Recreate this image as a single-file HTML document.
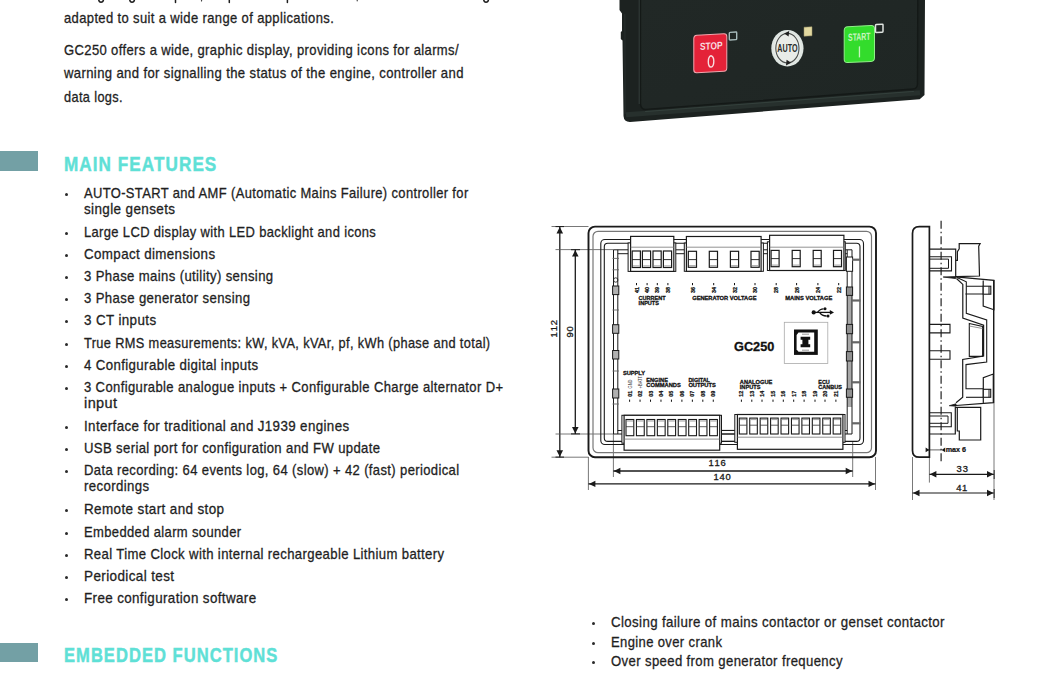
<!DOCTYPE html>
<html><head><meta charset="utf-8"><style>
html,body{margin:0;padding:0;background:#fff;}
body{width:1058px;height:675px;overflow:hidden;position:relative;font-family:"Liberation Sans",sans-serif;}
.t{position:absolute;white-space:pre;line-height:1;transform-origin:0 0;-webkit-text-stroke:0.3px currentColor;letter-spacing:0.4px;}
.b{position:absolute;width:3px;height:3px;border-radius:50%;background:#2a2a2a;}
.bar{position:absolute;left:0;width:38px;background:#73a0a5;}
svg{position:absolute;left:0;top:0;}
</style></head><body>
<div class="t" style="left:63.9px;top:10.56px;font-size:14.1px;font-weight:400;color:#1f1f1f;transform:scaleX(0.9220)">adapted to suit a wide range of applications.</div>
<div class="t" style="left:63.9px;top:42.96px;font-size:14.1px;font-weight:400;color:#1f1f1f;transform:scaleX(0.9242)">GC250 offers a wide, graphic display, providing icons for alarms/</div>
<div class="t" style="left:63.9px;top:65.96px;font-size:14.1px;font-weight:400;color:#1f1f1f;transform:scaleX(0.9291)">warning and for signalling the status of the engine, controller and</div>
<div class="t" style="left:63.9px;top:89.66px;font-size:14.1px;font-weight:400;color:#1f1f1f;transform:scaleX(0.9054)">data logs.</div>
<div class="t" style="left:83.6px;top:185.66px;font-size:14.1px;font-weight:400;color:#1f1f1f;transform:scaleX(0.9181)">AUTO-START and AMF (Automatic Mains Failure) controller for</div>
<div class="t" style="left:83.6px;top:202.36px;font-size:14.1px;font-weight:400;color:#1f1f1f;transform:scaleX(0.9559)">single gensets</div>
<div class="t" style="left:83.6px;top:224.76px;font-size:14.1px;font-weight:400;color:#1f1f1f;transform:scaleX(0.9175)">Large LCD display with LED backlight and icons</div>
<div class="t" style="left:83.6px;top:246.86px;font-size:14.1px;font-weight:400;color:#1f1f1f;transform:scaleX(0.9472)">Compact dimensions</div>
<div class="t" style="left:83.6px;top:268.56px;font-size:14.1px;font-weight:400;color:#1f1f1f;transform:scaleX(0.9309)">3 Phase mains (utility) sensing</div>
<div class="t" style="left:83.6px;top:290.76px;font-size:14.1px;font-weight:400;color:#1f1f1f;transform:scaleX(0.9328)">3 Phase generator sensing</div>
<div class="t" style="left:83.6px;top:313.06px;font-size:14.1px;font-weight:400;color:#1f1f1f;transform:scaleX(0.9510)">3 CT inputs</div>
<div class="t" style="left:83.6px;top:335.96px;font-size:14.1px;font-weight:400;color:#1f1f1f;transform:scaleX(0.9075)">True RMS measurements: kW, kVA, kVAr, pf, kWh (phase and total)</div>
<div class="t" style="left:83.6px;top:358.06px;font-size:14.1px;font-weight:400;color:#1f1f1f;transform:scaleX(0.9403)">4 Configurable digital inputs</div>
<div class="t" style="left:83.6px;top:379.76px;font-size:14.1px;font-weight:400;color:#1f1f1f;transform:scaleX(0.9251)">3 Configurable analogue inputs + Configurable Charge alternator D+</div>
<div class="t" style="left:83.6px;top:395.96px;font-size:14.1px;font-weight:400;color:#1f1f1f;transform:scaleX(1.0291)">input</div>
<div class="t" style="left:83.6px;top:419.06px;font-size:14.1px;font-weight:400;color:#1f1f1f;transform:scaleX(0.9466)">Interface for traditional and J1939 engines</div>
<div class="t" style="left:83.6px;top:440.86px;font-size:14.1px;font-weight:400;color:#1f1f1f;transform:scaleX(0.9298)">USB serial port for configuration and FW update</div>
<div class="t" style="left:83.6px;top:462.66px;font-size:14.1px;font-weight:400;color:#1f1f1f;transform:scaleX(0.9241)">Data recording: 64 events log, 64 (slow) + 42 (fast) periodical</div>
<div class="t" style="left:83.6px;top:478.96px;font-size:14.1px;font-weight:400;color:#1f1f1f;transform:scaleX(0.9379)">recordings</div>
<div class="t" style="left:83.6px;top:501.86px;font-size:14.1px;font-weight:400;color:#1f1f1f;transform:scaleX(0.9553)">Remote start and stop</div>
<div class="t" style="left:83.6px;top:524.86px;font-size:14.1px;font-weight:400;color:#1f1f1f;transform:scaleX(0.9210)">Embedded alarm sounder</div>
<div class="t" style="left:83.6px;top:546.76px;font-size:14.1px;font-weight:400;color:#1f1f1f;transform:scaleX(0.9303)">Real Time Clock with internal rechargeable Lithium battery</div>
<div class="t" style="left:83.6px;top:568.76px;font-size:14.1px;font-weight:400;color:#1f1f1f;transform:scaleX(0.9572)">Periodical test</div>
<div class="t" style="left:83.6px;top:590.86px;font-size:14.1px;font-weight:400;color:#1f1f1f;transform:scaleX(0.9499)">Free configuration software</div>
<div class="t" style="left:611.2px;top:614.66px;font-size:14.1px;font-weight:400;color:#1f1f1f;transform:scaleX(0.9417)">Closing failure of mains contactor or genset contactor</div>
<div class="t" style="left:611.2px;top:634.66px;font-size:14.1px;font-weight:400;color:#1f1f1f;transform:scaleX(0.9241)">Engine over crank</div>
<div class="t" style="left:611.2px;top:653.56px;font-size:14.1px;font-weight:400;color:#1f1f1f;transform:scaleX(0.9311)">Over speed from generator frequency</div>
<div class="t" style="left:63.7px;top:154.76px;font-size:19.3px;font-weight:700;color:#5fe0d6;transform:scaleX(0.8880);-webkit-text-stroke:0.45px #5fe0d6;letter-spacing:1.2px">MAIN FEATURES</div>
<div class="t" style="left:63.6px;top:645.56px;font-size:19.3px;font-weight:700;color:#5fe0d6;transform:scaleX(0.8585);-webkit-text-stroke:0.45px #5fe0d6;letter-spacing:1.2px">EMBEDDED FUNCTIONS</div>
<div class="b" style="left:64.9px;top:192.6px"></div>
<div class="b" style="left:64.9px;top:231.7px"></div>
<div class="b" style="left:64.9px;top:253.8px"></div>
<div class="b" style="left:64.9px;top:275.5px"></div>
<div class="b" style="left:64.9px;top:297.7px"></div>
<div class="b" style="left:64.9px;top:320.0px"></div>
<div class="b" style="left:64.9px;top:342.9px"></div>
<div class="b" style="left:64.9px;top:365.0px"></div>
<div class="b" style="left:64.9px;top:386.7px"></div>
<div class="b" style="left:64.9px;top:426.0px"></div>
<div class="b" style="left:64.9px;top:447.8px"></div>
<div class="b" style="left:64.9px;top:469.6px"></div>
<div class="b" style="left:64.9px;top:508.8px"></div>
<div class="b" style="left:64.9px;top:531.8px"></div>
<div class="b" style="left:64.9px;top:553.7px"></div>
<div class="b" style="left:64.9px;top:575.7px"></div>
<div class="b" style="left:64.9px;top:597.8px"></div>
<div class="b" style="left:591.9px;top:621.6px"></div>
<div class="b" style="left:591.9px;top:641.6px"></div>
<div class="b" style="left:591.9px;top:660.5px"></div>
<div class="bar" style="top:151.2px;height:19.6px"></div>
<div class="bar" style="top:642.8px;height:19.3px"></div>
<svg width="1058" height="20" viewBox="0 0 1058 20" style="position:absolute;left:0;top:0">
<g fill="none" stroke="#1f1f1f" stroke-width="1.5" stroke-linecap="round">
<path d="M98.6,-1 Q98.8,2.2 101,2.2 Q103.4,2.2 103.6,-1"/>
<path d="M129.6,-1 Q129.8,2.2 132,2.2 Q134.4,2.2 134.6,-1"/>
<path d="M483.6,-1 Q483.8,2.2 486,2.2 Q488.4,2.2 488.6,-1"/>
<path d="M175.5,-1 L175.5,2.6"/>
<path d="M229.3,-1 L229.3,2.6"/>
<path d="M287.4,-1 L287.4,2.6"/>
</g>
<g fill="none" stroke="#444" stroke-width="1.2" stroke-linecap="round">
<path d="M201.7,-1 L201.5,1"/>
<path d="M357.4,-1 L357.2,0.8"/>
</g>
</svg>
<svg width="1058" height="675" viewBox="0 0 1058 675" style="position:absolute;left:0;top:0">
<defs>
<linearGradient id="gpanel" x1="0" y1="0" x2="1" y2="1">
<stop offset="0" stop-color="#212826"/><stop offset="1" stop-color="#1f2624"/>
</linearGradient>
</defs>
<!-- outer frame -->
<path d="M619.5,-2 L619.5,10 L622,13.5 L622,31 L620.8,32 L620.8,39 L622.5,40.5 L623.5,116 Q624,122 630,121.9 L919.7,99.3 L924.5,94.9 L925,-2 Z" fill="#1c2220"/>
<!-- lower frame band lighter -->
<path d="M626,114.8 L920,92.8" stroke="#27302d" stroke-width="5" fill="none"/>
<path d="M645,111.6 L914,91.4" stroke="#34403c" stroke-width="1" fill="none"/>
<path d="M624.8,14 L625.2,114" stroke="#252c2a" stroke-width="1.2" fill="none"/>
<!-- inner panel -->
<path d="M640.5,-2 L640.5,104 Q641,109.8 646,109.4 L913,89 Q917.5,88.6 917.5,84 L917.8,-2" fill="url(#gpanel)" stroke="#141917" stroke-width="1.4"/>
<path d="M639.2,-2 L639.2,104" stroke="#3a4441" stroke-width="0.8" fill="none"/>
<!-- STOP button -->
<g transform="translate(710.3 53.2) skewY(-3) translate(-710.3 -53.2)">
<rect x="693.8" y="34.5" width="33" height="37.5" rx="3" fill="#e42238" stroke="#f2a6ae" stroke-width="1"/>
<text x="711.2" y="49.4" font-family="Liberation Sans" font-size="10.2" font-weight="700" fill="#f8dde0" text-anchor="middle" textLength="22.5" lengthAdjust="spacingAndGlyphs">STOP</text>
<path d="M711,55.8 Q713.8,56.5 713.8,61.5 Q713.8,66.8 711,67.2 Q708.3,66.8 708.3,61.5 Q708.3,56.5 711,55.8 Z" fill="none" stroke="#f8dde0" stroke-width="1.4"/>
</g>
<rect x="729.3" y="32.2" width="7.4" height="7.6" rx="0.8" fill="none" stroke="#a8bcbc" stroke-width="1.4" transform="translate(733 36) skewY(-3) translate(-733 -36)"/>
<!-- AUTO -->
<ellipse cx="787.4" cy="48.2" rx="16.1" ry="18.3" fill="#dfe6e2"/>
<ellipse cx="787.4" cy="48.2" rx="13.6" ry="15.8" fill="#e9ece8"/>
<ellipse cx="787.4" cy="48.2" rx="11.6" ry="14.8" fill="none" stroke="#4a4e4c" stroke-width="1.1"/>
<path d="M784.2,33.6 L789.2,31 L788.6,36.6 Z" fill="#1e1e1e"/>
<path d="M791.2,62.8 L786,65.6 L786.6,59.8 Z" fill="#1e1e1e"/>
<text x="787.4" y="52" font-family="Liberation Sans" font-size="10" font-weight="700" fill="#2a2c2a" text-anchor="middle" textLength="20.2" lengthAdjust="spacingAndGlyphs">AUTO</text>
<!-- LED -->
<rect x="804" y="27" width="8" height="9" fill="#e2d9a0" stroke="#9c9468" stroke-width="0.5" transform="translate(808 31.5) skewY(-3) translate(-808 -31.5)"/>
<!-- START -->
<g transform="translate(859.2 44) skewY(-3) translate(-859.2 -44)">
<rect x="844.2" y="26.2" width="30.3" height="35.8" rx="3.5" fill="#33dc2c" stroke="#90f088" stroke-width="1"/>
<text x="859.3" y="40.4" font-family="Liberation Sans" font-size="10.4" font-weight="700" fill="#c8f4c0" text-anchor="middle" textLength="22.5" lengthAdjust="spacingAndGlyphs">START</text>
<rect x="858.8" y="46.4" width="1.3" height="11" fill="#c8f4c0"/>
</g>
<rect x="875.5" y="24.3" width="7.5" height="8" rx="0.8" fill="none" stroke="#dfe4e0" stroke-width="1.5" transform="translate(879 28) skewY(-3) translate(-879 -28)"/>
</svg>
<svg width="1058" height="675" viewBox="0 0 1058 675" style="position:absolute;left:0;top:0" font-family="Liberation Sans">
<line x1="551.5" y1="226.5" x2="588.5" y2="226.5" stroke="#555" stroke-width="0.8"/>
<line x1="551.5" y1="457.2" x2="588.5" y2="457.2" stroke="#555" stroke-width="0.8"/>
<line x1="559.8" y1="226.5" x2="559.8" y2="457.2" stroke="#1a1a1a" stroke-width="1.3"/>
<path d="M559.8,227 L556.5,233.5 L563.0999999999999,233.5 Z" fill="#1a1a1a"/>
<path d="M559.8,456.7 L556.5,450.2 L563.0999999999999,450.2 Z" fill="#1a1a1a"/>
<line x1="555.5" y1="226.6" x2="564" y2="226.6" stroke="#1a1a1a" stroke-width="1"/>
<line x1="555.5" y1="457.1" x2="564" y2="457.1" stroke="#1a1a1a" stroke-width="1"/>
<line x1="555.5" y1="249.6" x2="613.5" y2="249.6" stroke="#555" stroke-width="0.8"/>
<line x1="555.5" y1="434" x2="613.5" y2="434" stroke="#555" stroke-width="0.8"/>
<line x1="575.3" y1="249.6" x2="575.3" y2="434" stroke="#1a1a1a" stroke-width="1.3"/>
<path d="M575.3,250.1 L572.0,256.6 L578.5999999999999,256.6 Z" fill="#1a1a1a"/>
<path d="M575.3,433.5 L572.0,427.0 L578.5999999999999,427.0 Z" fill="#1a1a1a"/>
<line x1="571" y1="249.7" x2="580" y2="249.7" stroke="#1a1a1a" stroke-width="1"/>
<line x1="571" y1="433.9" x2="580" y2="433.9" stroke="#1a1a1a" stroke-width="1"/>
<g transform="translate(557.2 337.8) rotate(-90)"><text transform="translate(3.03 0) scale(1.12 1)" text-anchor="middle" font-size="8.4" fill="#1a1a1a" stroke="#1a1a1a" stroke-width="0.3">1</text><text transform="translate(9.10 0) scale(1.12 1)" text-anchor="middle" font-size="8.4" fill="#1a1a1a" stroke="#1a1a1a" stroke-width="0.3">1</text><text transform="translate(15.17 0) scale(1.12 1)" text-anchor="middle" font-size="8.4" fill="#1a1a1a" stroke="#1a1a1a" stroke-width="0.3">2</text></g>
<g transform="translate(572.8 337.8) rotate(-90)"><text transform="translate(3.00 0) scale(1.12 1)" text-anchor="middle" font-size="8.4" fill="#1a1a1a" stroke="#1a1a1a" stroke-width="0.3">9</text><text transform="translate(9.00 0) scale(1.12 1)" text-anchor="middle" font-size="8.4" fill="#1a1a1a" stroke="#1a1a1a" stroke-width="0.3">0</text></g>
<line x1="613.4" y1="434" x2="613.4" y2="477" stroke="#555" stroke-width="0.8"/>
<line x1="852.7" y1="442" x2="852.7" y2="477" stroke="#555" stroke-width="0.8"/>
<line x1="613.4" y1="471" x2="852.7" y2="471" stroke="#1a1a1a" stroke-width="1.3"/>
<path d="M613.9,471 L620.4,467.8 L620.4,474.2 Z" fill="#1a1a1a"/>
<path d="M852.2,471 L845.7,467.8 L845.7,474.2 Z" fill="#1a1a1a"/>
<line x1="588.4" y1="457" x2="588.4" y2="490" stroke="#555" stroke-width="0.8"/>
<line x1="875.5" y1="457" x2="875.5" y2="490" stroke="#555" stroke-width="0.8"/>
<line x1="588.4" y1="483.9" x2="875.5" y2="483.9" stroke="#1a1a1a" stroke-width="1.3"/>
<path d="M588.9,483.9 L595.4,480.7 L595.4,487.09999999999997 Z" fill="#1a1a1a"/>
<path d="M875,483.9 L868.5,480.7 L868.5,487.09999999999997 Z" fill="#1a1a1a"/>
<g transform="translate(708.2 465.9)"><text transform="translate(2.97 0) scale(1.12 1)" text-anchor="middle" font-size="8.4" fill="#1a1a1a" stroke="#1a1a1a" stroke-width="0.3">1</text><text transform="translate(8.90 0) scale(1.12 1)" text-anchor="middle" font-size="8.4" fill="#1a1a1a" stroke="#1a1a1a" stroke-width="0.3">1</text><text transform="translate(14.83 0) scale(1.12 1)" text-anchor="middle" font-size="8.4" fill="#1a1a1a" stroke="#1a1a1a" stroke-width="0.3">6</text></g>
<g transform="translate(713 479.8)"><text transform="translate(3.02 0) scale(1.12 1)" text-anchor="middle" font-size="8.4" fill="#1a1a1a" stroke="#1a1a1a" stroke-width="0.3">1</text><text transform="translate(9.05 0) scale(1.12 1)" text-anchor="middle" font-size="8.4" fill="#1a1a1a" stroke="#1a1a1a" stroke-width="0.3">4</text><text transform="translate(15.08 0) scale(1.12 1)" text-anchor="middle" font-size="8.4" fill="#1a1a1a" stroke="#1a1a1a" stroke-width="0.3">0</text></g>
<rect x="588.5" y="226.6" width="287.5" height="230.6" rx="6.5" fill="none" stroke="#1a1a1a" stroke-width="1.9"/>
<rect x="593" y="231.3" width="278.5" height="221.4" rx="5" fill="none" stroke="#777" stroke-width="1.2"/>
<rect x="600.8" y="239.5" width="262.7" height="205" rx="4" fill="none" stroke="#1a1a1a" stroke-width="1.1"/>
<rect x="604.3" y="243.2" width="255.7" height="198.2" rx="3.5" fill="none" stroke="#1a1a1a" stroke-width="1.1"/>
<line x1="613.5" y1="249.8" x2="852" y2="249.8" stroke="#1a1a1a" stroke-width="1"/>
<line x1="617.7" y1="253.7" x2="847.2" y2="253.7" stroke="#1a1a1a" stroke-width="1"/>
<line x1="613.5" y1="434" x2="852" y2="434" stroke="#1a1a1a" stroke-width="1"/>
<line x1="617.7" y1="430.5" x2="847.2" y2="430.5" stroke="#1a1a1a" stroke-width="1"/>
<rect x="847.2" y="295" width="4.8" height="112" fill="#a8a8a8"/>
<line x1="613.5" y1="249.8" x2="613.5" y2="434" stroke="#1a1a1a" stroke-width="1"/>
<line x1="617.8" y1="249.8" x2="617.8" y2="434" stroke="#1a1a1a" stroke-width="1"/>
<line x1="847.2" y1="249.8" x2="847.2" y2="434" stroke="#1a1a1a" stroke-width="1"/>
<line x1="852" y1="249.8" x2="852" y2="434" stroke="#1a1a1a" stroke-width="1"/>
<rect x="612.6" y="286" width="6.2" height="8.600000000000023" fill="#b0b0b0" stroke="#1a1a1a" stroke-width="1"/>
<rect x="612.6" y="324.7" width="6.2" height="8.600000000000023" fill="#b0b0b0" stroke="#1a1a1a" stroke-width="1"/>
<rect x="612.6" y="350.5" width="6.2" height="8.5" fill="#b0b0b0" stroke="#1a1a1a" stroke-width="1"/>
<rect x="612.6" y="389" width="6.2" height="9" fill="#b0b0b0" stroke="#1a1a1a" stroke-width="1"/>
<rect x="846.4" y="287" width="6.2" height="8.399999999999977" fill="#909090" stroke="#1a1a1a" stroke-width="1"/>
<rect x="846.4" y="324.4" width="6.2" height="9.300000000000011" fill="#909090" stroke="#1a1a1a" stroke-width="1"/>
<rect x="846.4" y="351.6" width="6.2" height="9.399999999999977" fill="#909090" stroke="#1a1a1a" stroke-width="1"/>
<rect x="846.4" y="389" width="6.2" height="8.300000000000011" fill="#909090" stroke="#1a1a1a" stroke-width="1"/>
<rect x="846.4" y="257" width="6.2" height="14.3" fill="#fff" stroke="#1a1a1a" stroke-width="1"/>
<circle cx="615.7" cy="280" r="2.2" fill="none" stroke="#1a1a1a" stroke-width="0.8"/>
<line x1="612.5" y1="258.4" x2="619" y2="258.4" stroke="#666" stroke-width="0.9"/>
<line x1="612.5" y1="269.8" x2="619" y2="269.8" stroke="#666" stroke-width="0.9"/>
<line x1="612.5" y1="310" x2="619" y2="310" stroke="#666" stroke-width="0.9"/>
<line x1="612.5" y1="371" x2="619" y2="371" stroke="#666" stroke-width="0.9"/>
<line x1="612.5" y1="404" x2="619" y2="404" stroke="#666" stroke-width="0.9"/>
<line x1="852" y1="259.7" x2="860.5" y2="259.7" stroke="#666" stroke-width="2.2"/>
<line x1="852" y1="300.5" x2="860.5" y2="300.5" stroke="#666" stroke-width="2.2"/>
<line x1="852" y1="342.3" x2="860.5" y2="342.3" stroke="#666" stroke-width="2.2"/>
<line x1="852" y1="382.3" x2="860.5" y2="382.3" stroke="#666" stroke-width="2.2"/>
<line x1="852" y1="423.3" x2="860.5" y2="423.3" stroke="#666" stroke-width="2.2"/>
<rect x="628.1" y="242.9" width="47.69999999999993" height="28.49999999999997" fill="#fff" stroke="#1a1a1a" stroke-width="1"/>
<rect x="630.6" y="236.4" width="43.19999999999993" height="34.99999999999997" fill="#fff" stroke="#1a1a1a" stroke-width="1.2"/>
<line x1="630.6" y1="247.2" x2="673.8" y2="247.2" stroke="#777" stroke-width="0.8"/>
<rect x="632.2" y="251" width="8.2" height="16.5" fill="#fff" stroke="#1a1a1a" stroke-width="1.2"/>
<line x1="632.2" y1="259.6" x2="640.4000000000001" y2="259.6" stroke="#1a1a1a" stroke-width="0.9"/>
<line x1="633.0" y1="265.9" x2="639.6000000000001" y2="265.9" stroke="#888" stroke-width="0.8"/>
<rect x="642.4" y="251" width="8.2" height="16.5" fill="#fff" stroke="#1a1a1a" stroke-width="1.2"/>
<line x1="642.4" y1="259.6" x2="650.6" y2="259.6" stroke="#1a1a1a" stroke-width="0.9"/>
<line x1="643.1999999999999" y1="265.9" x2="649.8000000000001" y2="265.9" stroke="#888" stroke-width="0.8"/>
<rect x="653" y="251" width="8.2" height="16.5" fill="#fff" stroke="#1a1a1a" stroke-width="1.2"/>
<line x1="653" y1="259.6" x2="661.2" y2="259.6" stroke="#1a1a1a" stroke-width="0.9"/>
<line x1="653.8" y1="265.9" x2="660.4000000000001" y2="265.9" stroke="#888" stroke-width="0.8"/>
<rect x="663.4" y="251" width="8.2" height="16.5" fill="#fff" stroke="#1a1a1a" stroke-width="1.2"/>
<line x1="663.4" y1="259.6" x2="671.6" y2="259.6" stroke="#1a1a1a" stroke-width="0.9"/>
<line x1="664.1999999999999" y1="265.9" x2="670.8000000000001" y2="265.9" stroke="#888" stroke-width="0.8"/>
<rect x="684.3" y="243.0" width="79.10000000000002" height="28.30000000000001" fill="#fff" stroke="#1a1a1a" stroke-width="1"/>
<rect x="686.4" y="236.5" width="74.70000000000005" height="34.80000000000001" fill="#fff" stroke="#1a1a1a" stroke-width="1.2"/>
<line x1="686.4" y1="247.2" x2="761.1" y2="247.2" stroke="#777" stroke-width="0.8"/>
<rect x="688.3" y="251.3" width="8.2" height="16.0" fill="#fff" stroke="#1a1a1a" stroke-width="1.2"/>
<line x1="688.3" y1="259.6" x2="696.5" y2="259.6" stroke="#1a1a1a" stroke-width="0.9"/>
<line x1="689.0999999999999" y1="265.7" x2="695.7" y2="265.7" stroke="#888" stroke-width="0.8"/>
<rect x="709.3" y="251.3" width="8.2" height="16.0" fill="#fff" stroke="#1a1a1a" stroke-width="1.2"/>
<line x1="709.3" y1="259.6" x2="717.5" y2="259.6" stroke="#1a1a1a" stroke-width="0.9"/>
<line x1="710.0999999999999" y1="265.7" x2="716.7" y2="265.7" stroke="#888" stroke-width="0.8"/>
<rect x="730.4" y="251.3" width="8.2" height="16.0" fill="#fff" stroke="#1a1a1a" stroke-width="1.2"/>
<line x1="730.4" y1="259.6" x2="738.6" y2="259.6" stroke="#1a1a1a" stroke-width="0.9"/>
<line x1="731.1999999999999" y1="265.7" x2="737.8000000000001" y2="265.7" stroke="#888" stroke-width="0.8"/>
<rect x="751" y="251.3" width="8.2" height="16.0" fill="#fff" stroke="#1a1a1a" stroke-width="1.2"/>
<line x1="751" y1="259.6" x2="759.2" y2="259.6" stroke="#1a1a1a" stroke-width="0.9"/>
<line x1="751.8" y1="265.7" x2="758.4000000000001" y2="265.7" stroke="#888" stroke-width="0.8"/>
<rect x="767.4" y="241.8" width="77.89999999999998" height="28.69999999999999" fill="#fff" stroke="#1a1a1a" stroke-width="1"/>
<rect x="769.6" y="235.3" width="74.29999999999995" height="35.19999999999999" fill="#fff" stroke="#1a1a1a" stroke-width="1.2"/>
<line x1="769.6" y1="247.2" x2="843.9" y2="247.2" stroke="#777" stroke-width="0.8"/>
<rect x="771.1" y="250.4" width="8" height="16.299999999999983" fill="#fff" stroke="#1a1a1a" stroke-width="1.2"/>
<line x1="771.1" y1="258.6" x2="779.1" y2="258.6" stroke="#1a1a1a" stroke-width="0.9"/>
<line x1="771.9" y1="265.09999999999997" x2="778.3000000000001" y2="265.09999999999997" stroke="#888" stroke-width="0.8"/>
<rect x="792.2" y="250.4" width="8" height="16.299999999999983" fill="#fff" stroke="#1a1a1a" stroke-width="1.2"/>
<line x1="792.2" y1="258.6" x2="800.2" y2="258.6" stroke="#1a1a1a" stroke-width="0.9"/>
<line x1="793.0" y1="265.09999999999997" x2="799.4000000000001" y2="265.09999999999997" stroke="#888" stroke-width="0.8"/>
<rect x="813.2" y="250.4" width="8" height="16.299999999999983" fill="#fff" stroke="#1a1a1a" stroke-width="1.2"/>
<line x1="813.2" y1="258.6" x2="821.2" y2="258.6" stroke="#1a1a1a" stroke-width="0.9"/>
<line x1="814.0" y1="265.09999999999997" x2="820.4000000000001" y2="265.09999999999997" stroke="#888" stroke-width="0.8"/>
<rect x="833.5" y="250.4" width="8" height="16.299999999999983" fill="#fff" stroke="#1a1a1a" stroke-width="1.2"/>
<line x1="833.5" y1="258.6" x2="841.5" y2="258.6" stroke="#1a1a1a" stroke-width="0.9"/>
<line x1="834.3" y1="265.09999999999997" x2="840.7" y2="265.09999999999997" stroke="#888" stroke-width="0.8"/>
<line x1="721.5" y1="430.4" x2="734.8" y2="430.4" stroke="#1a1a1a" stroke-width="1"/>
<line x1="721.5" y1="434" x2="734.8" y2="434" stroke="#1a1a1a" stroke-width="1"/>
<line x1="721.5" y1="441.4" x2="734.8" y2="441.4" stroke="#1a1a1a" stroke-width="1"/>
<line x1="721.5" y1="444.5" x2="734.8" y2="444.5" stroke="#1a1a1a" stroke-width="1"/>
<rect x="621.9" y="415.3" width="99.60000000000002" height="27.899999999999977" fill="#fff" stroke="#1a1a1a" stroke-width="1"/>
<rect x="624.1" y="415.3" width="95.60000000000002" height="34.89999999999998" fill="#fff" stroke="#1a1a1a" stroke-width="1.2"/>
<line x1="624.1" y1="439.1" x2="719.7" y2="439.1" stroke="#777" stroke-width="0.8"/>
<rect x="626.0" y="419.5" width="7.8" height="16.19999999999999" fill="#fff" stroke="#1a1a1a" stroke-width="1.1"/>
<line x1="626.0" y1="426.7" x2="633.8" y2="426.7" stroke="#333" stroke-width="0.8"/>
<line x1="626.8" y1="421.0" x2="633.0" y2="421.0" stroke="#888" stroke-width="0.8"/>
<rect x="636.45" y="419.5" width="7.8" height="16.19999999999999" fill="#fff" stroke="#1a1a1a" stroke-width="1.1"/>
<line x1="636.45" y1="426.7" x2="644.25" y2="426.7" stroke="#333" stroke-width="0.8"/>
<line x1="637.25" y1="421.0" x2="643.45" y2="421.0" stroke="#888" stroke-width="0.8"/>
<rect x="646.9" y="419.5" width="7.8" height="16.19999999999999" fill="#fff" stroke="#1a1a1a" stroke-width="1.1"/>
<line x1="646.9" y1="426.7" x2="654.6999999999999" y2="426.7" stroke="#333" stroke-width="0.8"/>
<line x1="647.6999999999999" y1="421.0" x2="653.9" y2="421.0" stroke="#888" stroke-width="0.8"/>
<rect x="657.35" y="419.5" width="7.8" height="16.19999999999999" fill="#fff" stroke="#1a1a1a" stroke-width="1.1"/>
<line x1="657.35" y1="426.7" x2="665.15" y2="426.7" stroke="#333" stroke-width="0.8"/>
<line x1="658.15" y1="421.0" x2="664.35" y2="421.0" stroke="#888" stroke-width="0.8"/>
<rect x="667.8" y="419.5" width="7.8" height="16.19999999999999" fill="#fff" stroke="#1a1a1a" stroke-width="1.1"/>
<line x1="667.8" y1="426.7" x2="675.5999999999999" y2="426.7" stroke="#333" stroke-width="0.8"/>
<line x1="668.5999999999999" y1="421.0" x2="674.8" y2="421.0" stroke="#888" stroke-width="0.8"/>
<rect x="678.25" y="419.5" width="7.8" height="16.19999999999999" fill="#fff" stroke="#1a1a1a" stroke-width="1.1"/>
<line x1="678.25" y1="426.7" x2="686.05" y2="426.7" stroke="#333" stroke-width="0.8"/>
<line x1="679.05" y1="421.0" x2="685.25" y2="421.0" stroke="#888" stroke-width="0.8"/>
<rect x="688.7" y="419.5" width="7.8" height="16.19999999999999" fill="#fff" stroke="#1a1a1a" stroke-width="1.1"/>
<line x1="688.7" y1="426.7" x2="696.5" y2="426.7" stroke="#333" stroke-width="0.8"/>
<line x1="689.5" y1="421.0" x2="695.7" y2="421.0" stroke="#888" stroke-width="0.8"/>
<rect x="699.15" y="419.5" width="7.8" height="16.19999999999999" fill="#fff" stroke="#1a1a1a" stroke-width="1.1"/>
<line x1="699.15" y1="426.7" x2="706.9499999999999" y2="426.7" stroke="#333" stroke-width="0.8"/>
<line x1="699.9499999999999" y1="421.0" x2="706.15" y2="421.0" stroke="#888" stroke-width="0.8"/>
<rect x="709.6" y="419.5" width="7.8" height="16.19999999999999" fill="#fff" stroke="#1a1a1a" stroke-width="1.1"/>
<line x1="709.6" y1="426.7" x2="717.4" y2="426.7" stroke="#333" stroke-width="0.8"/>
<line x1="710.4" y1="421.0" x2="716.6" y2="421.0" stroke="#888" stroke-width="0.8"/>
<rect x="734.8" y="414.5" width="110.20000000000005" height="27.80000000000001" fill="#fff" stroke="#1a1a1a" stroke-width="1"/>
<rect x="737.4" y="414.5" width="105.5" height="34.80000000000001" fill="#fff" stroke="#1a1a1a" stroke-width="1.2"/>
<line x1="737.4" y1="437.2" x2="842.9" y2="437.2" stroke="#777" stroke-width="0.8"/>
<rect x="739.3" y="418.1" width="7.6" height="15.899999999999977" fill="#fff" stroke="#1a1a1a" stroke-width="1.1"/>
<line x1="739.3" y1="425.2" x2="746.9" y2="425.2" stroke="#333" stroke-width="0.8"/>
<line x1="740.0999999999999" y1="419.6" x2="746.1" y2="419.6" stroke="#888" stroke-width="0.8"/>
<rect x="749.7299999999999" y="418.1" width="7.6" height="15.899999999999977" fill="#fff" stroke="#1a1a1a" stroke-width="1.1"/>
<line x1="749.7299999999999" y1="425.2" x2="757.3299999999999" y2="425.2" stroke="#333" stroke-width="0.8"/>
<line x1="750.5299999999999" y1="419.6" x2="756.53" y2="419.6" stroke="#888" stroke-width="0.8"/>
<rect x="760.16" y="418.1" width="7.6" height="15.899999999999977" fill="#fff" stroke="#1a1a1a" stroke-width="1.1"/>
<line x1="760.16" y1="425.2" x2="767.76" y2="425.2" stroke="#333" stroke-width="0.8"/>
<line x1="760.9599999999999" y1="419.6" x2="766.96" y2="419.6" stroke="#888" stroke-width="0.8"/>
<rect x="770.5899999999999" y="418.1" width="7.6" height="15.899999999999977" fill="#fff" stroke="#1a1a1a" stroke-width="1.1"/>
<line x1="770.5899999999999" y1="425.2" x2="778.1899999999999" y2="425.2" stroke="#333" stroke-width="0.8"/>
<line x1="771.3899999999999" y1="419.6" x2="777.39" y2="419.6" stroke="#888" stroke-width="0.8"/>
<rect x="781.02" y="418.1" width="7.6" height="15.899999999999977" fill="#fff" stroke="#1a1a1a" stroke-width="1.1"/>
<line x1="781.02" y1="425.2" x2="788.62" y2="425.2" stroke="#333" stroke-width="0.8"/>
<line x1="781.8199999999999" y1="419.6" x2="787.82" y2="419.6" stroke="#888" stroke-width="0.8"/>
<rect x="791.4499999999999" y="418.1" width="7.6" height="15.899999999999977" fill="#fff" stroke="#1a1a1a" stroke-width="1.1"/>
<line x1="791.4499999999999" y1="425.2" x2="799.05" y2="425.2" stroke="#333" stroke-width="0.8"/>
<line x1="792.2499999999999" y1="419.6" x2="798.25" y2="419.6" stroke="#888" stroke-width="0.8"/>
<rect x="801.88" y="418.1" width="7.6" height="15.899999999999977" fill="#fff" stroke="#1a1a1a" stroke-width="1.1"/>
<line x1="801.88" y1="425.2" x2="809.48" y2="425.2" stroke="#333" stroke-width="0.8"/>
<line x1="802.68" y1="419.6" x2="808.6800000000001" y2="419.6" stroke="#888" stroke-width="0.8"/>
<rect x="812.31" y="418.1" width="7.6" height="15.899999999999977" fill="#fff" stroke="#1a1a1a" stroke-width="1.1"/>
<line x1="812.31" y1="425.2" x2="819.91" y2="425.2" stroke="#333" stroke-width="0.8"/>
<line x1="813.1099999999999" y1="419.6" x2="819.11" y2="419.6" stroke="#888" stroke-width="0.8"/>
<rect x="822.74" y="418.1" width="7.6" height="15.899999999999977" fill="#fff" stroke="#1a1a1a" stroke-width="1.1"/>
<line x1="822.74" y1="425.2" x2="830.34" y2="425.2" stroke="#333" stroke-width="0.8"/>
<line x1="823.54" y1="419.6" x2="829.5400000000001" y2="419.6" stroke="#888" stroke-width="0.8"/>
<rect x="833.17" y="418.1" width="7.6" height="15.899999999999977" fill="#fff" stroke="#1a1a1a" stroke-width="1.1"/>
<line x1="833.17" y1="425.2" x2="840.77" y2="425.2" stroke="#333" stroke-width="0.8"/>
<line x1="833.9699999999999" y1="419.6" x2="839.97" y2="419.6" stroke="#888" stroke-width="0.8"/>
<text x="638.6" y="299.6" font-size="6.0" font-weight="700" fill="#111" stroke="#111" stroke-width="0.3" textLength="27" lengthAdjust="spacingAndGlyphs">CURRENT</text>
<text x="638.6" y="305.3" font-size="6.0" font-weight="700" fill="#111" stroke="#111" stroke-width="0.3" textLength="20.3" lengthAdjust="spacingAndGlyphs">INPUTS</text>
<text x="692.2" y="299.6" font-size="6.0" font-weight="700" fill="#111" stroke="#111" stroke-width="0.3" textLength="64.3" lengthAdjust="spacingAndGlyphs">GENERATOR VOLTAGE</text>
<text x="785.3" y="299.7" font-size="6.0" font-weight="700" fill="#111" stroke="#111" stroke-width="0.3" textLength="47" lengthAdjust="spacingAndGlyphs">MAINS VOLTAGE</text>
<text x="622.9" y="375.0" font-size="6.0" font-weight="700" fill="#111" stroke="#111" stroke-width="0.3" textLength="22.2" lengthAdjust="spacingAndGlyphs">SUPPLY</text>
<text x="646.3" y="381.8" font-size="6.0" font-weight="700" fill="#111" stroke="#111" stroke-width="0.3" textLength="21.6" lengthAdjust="spacingAndGlyphs">ENGINE</text>
<text x="646.3" y="386.9" font-size="6.0" font-weight="700" fill="#111" stroke="#111" stroke-width="0.3" textLength="34.5" lengthAdjust="spacingAndGlyphs">COMMANDS</text>
<text x="688.4" y="381.8" font-size="6.0" font-weight="700" fill="#111" stroke="#111" stroke-width="0.3" textLength="21.6" lengthAdjust="spacingAndGlyphs">DIGITAL</text>
<text x="688.4" y="386.9" font-size="6.0" font-weight="700" fill="#111" stroke="#111" stroke-width="0.3" textLength="27.4" lengthAdjust="spacingAndGlyphs">OUTPUTS</text>
<text x="739.8" y="383.6" font-size="6.0" font-weight="700" fill="#111" stroke="#111" stroke-width="0.3" textLength="32.5" lengthAdjust="spacingAndGlyphs">ANALOGUE</text>
<text x="739.8" y="388.5" font-size="6.0" font-weight="700" fill="#111" stroke="#111" stroke-width="0.3" textLength="20.6" lengthAdjust="spacingAndGlyphs">INPUTS</text>
<text x="818.3" y="383.6" font-size="6.0" font-weight="700" fill="#111" stroke="#111" stroke-width="0.3" textLength="11.5" lengthAdjust="spacingAndGlyphs">ECU</text>
<text x="818.3" y="388.5" font-size="6.0" font-weight="700" fill="#111" stroke="#111" stroke-width="0.3" textLength="23.7" lengthAdjust="spacingAndGlyphs">CANBUS</text>
<text transform="translate(638.5 293) rotate(-90)" font-size="5.6" font-weight="700" fill="#111" stroke="#111" stroke-width="0.25" textLength="6" lengthAdjust="spacingAndGlyphs">41</text>
<line x1="636.5" y1="283" x2="636.5" y2="285.2" stroke="#111" stroke-width="1"/>
<text transform="translate(649.1 293) rotate(-90)" font-size="5.6" font-weight="700" fill="#111" stroke="#111" stroke-width="0.25" textLength="6" lengthAdjust="spacingAndGlyphs">40</text>
<line x1="647.1" y1="283" x2="647.1" y2="285.2" stroke="#111" stroke-width="1"/>
<text transform="translate(659.3 293) rotate(-90)" font-size="5.6" font-weight="700" fill="#111" stroke="#111" stroke-width="0.25" textLength="6" lengthAdjust="spacingAndGlyphs">39</text>
<line x1="657.3" y1="283" x2="657.3" y2="285.2" stroke="#111" stroke-width="1"/>
<text transform="translate(669.9 293) rotate(-90)" font-size="5.6" font-weight="700" fill="#111" stroke="#111" stroke-width="0.25" textLength="6" lengthAdjust="spacingAndGlyphs">38</text>
<line x1="667.9" y1="283" x2="667.9" y2="285.2" stroke="#111" stroke-width="1"/>
<text transform="translate(694.5 293) rotate(-90)" font-size="5.6" font-weight="700" fill="#111" stroke="#111" stroke-width="0.25" textLength="6" lengthAdjust="spacingAndGlyphs">36</text>
<line x1="692.5" y1="283" x2="692.5" y2="285.2" stroke="#111" stroke-width="1"/>
<text transform="translate(715.7 293) rotate(-90)" font-size="5.6" font-weight="700" fill="#111" stroke="#111" stroke-width="0.25" textLength="6" lengthAdjust="spacingAndGlyphs">34</text>
<line x1="713.7" y1="283" x2="713.7" y2="285.2" stroke="#111" stroke-width="1"/>
<text transform="translate(736.5 293) rotate(-90)" font-size="5.6" font-weight="700" fill="#111" stroke="#111" stroke-width="0.25" textLength="6" lengthAdjust="spacingAndGlyphs">32</text>
<line x1="734.5" y1="283" x2="734.5" y2="285.2" stroke="#111" stroke-width="1"/>
<text transform="translate(757.0 293) rotate(-90)" font-size="5.6" font-weight="700" fill="#111" stroke="#111" stroke-width="0.25" textLength="6" lengthAdjust="spacingAndGlyphs">30</text>
<line x1="755" y1="283" x2="755" y2="285.2" stroke="#111" stroke-width="1"/>
<text transform="translate(778.2 293) rotate(-90)" font-size="5.6" font-weight="700" fill="#111" stroke="#111" stroke-width="0.25" textLength="6" lengthAdjust="spacingAndGlyphs">28</text>
<line x1="776.2" y1="283" x2="776.2" y2="285.2" stroke="#111" stroke-width="1"/>
<text transform="translate(798.6 293) rotate(-90)" font-size="5.6" font-weight="700" fill="#111" stroke="#111" stroke-width="0.25" textLength="6" lengthAdjust="spacingAndGlyphs">26</text>
<line x1="796.6" y1="283" x2="796.6" y2="285.2" stroke="#111" stroke-width="1"/>
<text transform="translate(819.9 293) rotate(-90)" font-size="5.6" font-weight="700" fill="#111" stroke="#111" stroke-width="0.25" textLength="6" lengthAdjust="spacingAndGlyphs">24</text>
<line x1="817.9" y1="283" x2="817.9" y2="285.2" stroke="#111" stroke-width="1"/>
<text transform="translate(840.7 293) rotate(-90)" font-size="5.6" font-weight="700" fill="#111" stroke="#111" stroke-width="0.25" textLength="6" lengthAdjust="spacingAndGlyphs">22</text>
<line x1="838.7" y1="283" x2="838.7" y2="285.2" stroke="#111" stroke-width="1"/>
<text transform="translate(631.6 396.8) rotate(-90)" font-size="5.6" font-weight="700" fill="#111" stroke="#111" stroke-width="0.25" textLength="6" lengthAdjust="spacingAndGlyphs">01</text>
<line x1="629.6" y1="399.6" x2="629.6" y2="401.8" stroke="#111" stroke-width="1"/>
<text transform="translate(642.0600000000001 396.8) rotate(-90)" font-size="5.6" font-weight="700" fill="#111" stroke="#111" stroke-width="0.25" textLength="6" lengthAdjust="spacingAndGlyphs">02</text>
<line x1="640.0600000000001" y1="399.6" x2="640.0600000000001" y2="401.8" stroke="#111" stroke-width="1"/>
<text transform="translate(652.52 396.8) rotate(-90)" font-size="5.6" font-weight="700" fill="#111" stroke="#111" stroke-width="0.25" textLength="6" lengthAdjust="spacingAndGlyphs">03</text>
<line x1="650.52" y1="399.6" x2="650.52" y2="401.8" stroke="#111" stroke-width="1"/>
<text transform="translate(662.98 396.8) rotate(-90)" font-size="5.6" font-weight="700" fill="#111" stroke="#111" stroke-width="0.25" textLength="6" lengthAdjust="spacingAndGlyphs">04</text>
<line x1="660.98" y1="399.6" x2="660.98" y2="401.8" stroke="#111" stroke-width="1"/>
<text transform="translate(673.44 396.8) rotate(-90)" font-size="5.6" font-weight="700" fill="#111" stroke="#111" stroke-width="0.25" textLength="6" lengthAdjust="spacingAndGlyphs">05</text>
<line x1="671.44" y1="399.6" x2="671.44" y2="401.8" stroke="#111" stroke-width="1"/>
<text transform="translate(683.9 396.8) rotate(-90)" font-size="5.6" font-weight="700" fill="#111" stroke="#111" stroke-width="0.25" textLength="6" lengthAdjust="spacingAndGlyphs">06</text>
<line x1="681.9" y1="399.6" x2="681.9" y2="401.8" stroke="#111" stroke-width="1"/>
<text transform="translate(694.36 396.8) rotate(-90)" font-size="5.6" font-weight="700" fill="#111" stroke="#111" stroke-width="0.25" textLength="6" lengthAdjust="spacingAndGlyphs">07</text>
<line x1="692.36" y1="399.6" x2="692.36" y2="401.8" stroke="#111" stroke-width="1"/>
<text transform="translate(704.82 396.8) rotate(-90)" font-size="5.6" font-weight="700" fill="#111" stroke="#111" stroke-width="0.25" textLength="6" lengthAdjust="spacingAndGlyphs">08</text>
<line x1="702.82" y1="399.6" x2="702.82" y2="401.8" stroke="#111" stroke-width="1"/>
<text transform="translate(715.28 396.8) rotate(-90)" font-size="5.6" font-weight="700" fill="#111" stroke="#111" stroke-width="0.25" textLength="6" lengthAdjust="spacingAndGlyphs">09</text>
<line x1="713.28" y1="399.6" x2="713.28" y2="401.8" stroke="#111" stroke-width="1"/>
<text transform="translate(743.4 396.8) rotate(-90)" font-size="5.6" font-weight="700" fill="#111" stroke="#111" stroke-width="0.25" textLength="6" lengthAdjust="spacingAndGlyphs">12</text>
<line x1="741.4" y1="399.6" x2="741.4" y2="401.8" stroke="#111" stroke-width="1"/>
<text transform="translate(753.8 396.8) rotate(-90)" font-size="5.6" font-weight="700" fill="#111" stroke="#111" stroke-width="0.25" textLength="6" lengthAdjust="spacingAndGlyphs">13</text>
<line x1="751.8" y1="399.6" x2="751.8" y2="401.8" stroke="#111" stroke-width="1"/>
<text transform="translate(764.0 396.8) rotate(-90)" font-size="5.6" font-weight="700" fill="#111" stroke="#111" stroke-width="0.25" textLength="6" lengthAdjust="spacingAndGlyphs">14</text>
<line x1="762" y1="399.6" x2="762" y2="401.8" stroke="#111" stroke-width="1"/>
<text transform="translate(775.0 396.8) rotate(-90)" font-size="5.6" font-weight="700" fill="#111" stroke="#111" stroke-width="0.25" textLength="6" lengthAdjust="spacingAndGlyphs">15</text>
<line x1="773" y1="399.6" x2="773" y2="401.8" stroke="#111" stroke-width="1"/>
<text transform="translate(785.3 396.8) rotate(-90)" font-size="5.6" font-weight="700" fill="#111" stroke="#111" stroke-width="0.25" textLength="6" lengthAdjust="spacingAndGlyphs">16</text>
<line x1="783.3" y1="399.6" x2="783.3" y2="401.8" stroke="#111" stroke-width="1"/>
<text transform="translate(795.7 396.8) rotate(-90)" font-size="5.6" font-weight="700" fill="#111" stroke="#111" stroke-width="0.25" textLength="6" lengthAdjust="spacingAndGlyphs">17</text>
<line x1="793.7" y1="399.6" x2="793.7" y2="401.8" stroke="#111" stroke-width="1"/>
<text transform="translate(806.1 396.8) rotate(-90)" font-size="5.6" font-weight="700" fill="#111" stroke="#111" stroke-width="0.25" textLength="6" lengthAdjust="spacingAndGlyphs">18</text>
<line x1="804.1" y1="399.6" x2="804.1" y2="401.8" stroke="#111" stroke-width="1"/>
<text transform="translate(817.0 396.8) rotate(-90)" font-size="5.6" font-weight="700" fill="#111" stroke="#111" stroke-width="0.25" textLength="6" lengthAdjust="spacingAndGlyphs">19</text>
<line x1="815" y1="399.6" x2="815" y2="401.8" stroke="#111" stroke-width="1"/>
<text transform="translate(827.0 396.8) rotate(-90)" font-size="5.6" font-weight="700" fill="#111" stroke="#111" stroke-width="0.25" textLength="6" lengthAdjust="spacingAndGlyphs">20</text>
<line x1="825" y1="399.6" x2="825" y2="401.8" stroke="#111" stroke-width="1"/>
<text transform="translate(837.9 396.8) rotate(-90)" font-size="5.6" font-weight="700" fill="#111" stroke="#111" stroke-width="0.25" textLength="6" lengthAdjust="spacingAndGlyphs">21</text>
<line x1="835.9" y1="399.6" x2="835.9" y2="401.8" stroke="#111" stroke-width="1"/>
<text transform="translate(631.5 388.4) rotate(-90)" font-size="4.6" fill="#333" textLength="8.8" lengthAdjust="spacingAndGlyphs">GND</text>
<text transform="translate(641.9 388.4) rotate(-90)" font-size="4.6" fill="#333" textLength="13" lengthAdjust="spacingAndGlyphs">+BATT.</text>
<text x="734" y="351" font-size="12.8" font-weight="700" fill="#111" stroke="#111" stroke-width="0.3" textLength="40.3" lengthAdjust="spacingAndGlyphs">GC250</text>
<rect x="784.3" y="322.3" width="43.5" height="41.2" fill="#fff" stroke="#aaa" stroke-width="0.8"/>
<rect x="794" y="329.5" width="23.8" height="25.4" fill="#111"/>
<path d="M798.5,332.6 L814.2,332.6 L814.2,351.8 L798.5,351.8 L796.6,349.5 L796.6,335 Z" fill="#fff"/>
<path d="M800.6,336.8 h9.6 v3 h-1.8 v4.4 h1.8 v3 h-9.6 v-3 h1.8 v-4.4 h-1.8 z" fill="#111"/>
<path d="M802,334.2 h7 M802,350.2 h7" stroke="#999" stroke-width="1"/>
<g stroke="#111" stroke-width="1.3" fill="none"><line x1="813.7" y1="312.4" x2="831" y2="312.4"/><path d="M817.5,312.4 Q820,308.8 823.5,308.8"/><path d="M819.5,312.4 Q822,316 826.5,316"/></g>
<circle cx="813.7" cy="312.4" r="2.1" fill="#111"/><circle cx="825" cy="308.8" r="1.5" fill="#111"/><circle cx="828" cy="316" r="1.5" fill="#111"/><path d="M834,312.4 L829.8,310 L829.8,314.8 Z" fill="#111"/>
</svg><svg width="1058" height="675" viewBox="0 0 1058 675" style="position:absolute;left:0;top:0" font-family="Liberation Sans">
<line x1="912.5" y1="457" x2="912.5" y2="500" stroke="#555" stroke-width="0.8"/>
<line x1="929.4" y1="457" x2="929.4" y2="482.6" stroke="#555" stroke-width="0.8"/>
<line x1="994" y1="280" x2="994" y2="500" stroke="#555" stroke-width="0.8"/>
<line x1="929.4" y1="474.3" x2="994" y2="474.3" stroke="#1a1a1a" stroke-width="1.2"/>
<path d="M929.9,474.3 L936.4,471.1 L936.4,477.5 Z" fill="#1a1a1a"/>
<path d="M993.5,474.3 L987.0,471.1 L987.0,477.5 Z" fill="#1a1a1a"/>
<line x1="994.2" y1="470" x2="994.2" y2="479" stroke="#444" stroke-width="1.2"/>
<g transform="translate(956.1 471.8)"><text transform="translate(3.12 0) scale(1.12 1)" text-anchor="middle" font-size="8.4" fill="#1a1a1a" stroke="#1a1a1a" stroke-width="0.3">3</text><text transform="translate(9.38 0) scale(1.12 1)" text-anchor="middle" font-size="8.4" fill="#1a1a1a" stroke="#1a1a1a" stroke-width="0.3">3</text></g>
<line x1="912.5" y1="493" x2="994" y2="493" stroke="#1a1a1a" stroke-width="1.2"/>
<path d="M913,493 L919.5,489.8 L919.5,496.2 Z" fill="#1a1a1a"/>
<path d="M993.5,493 L987.0,489.8 L987.0,496.2 Z" fill="#1a1a1a"/>
<line x1="994.2" y1="489" x2="994.2" y2="498" stroke="#444" stroke-width="1.2"/>
<g transform="translate(956 490.5)"><text transform="translate(2.90 0) scale(1.12 1)" text-anchor="middle" font-size="8.4" fill="#1a1a1a" stroke="#1a1a1a" stroke-width="0.3">4</text><text transform="translate(8.70 0) scale(1.12 1)" text-anchor="middle" font-size="8.4" fill="#1a1a1a" stroke="#1a1a1a" stroke-width="0.3">1</text></g>
<line x1="926" y1="449.9" x2="941.5" y2="449.9" stroke="#555" stroke-width="0.9"/>
<path d="M929.4,449.9 L925.6,447.6 L925.6,452.2 Z" fill="#1a1a1a"/>
<path d="M941.6,449.9 L945.2,447.6 L945.2,452.2 Z" fill="#1a1a1a"/>
<text x="945.7" y="452.4" font-size="6.4" font-weight="700" fill="#111" stroke="#111" stroke-width="0.2" textLength="20.3" lengthAdjust="spacingAndGlyphs">max 6</text>
<path d="M929.4,226.6 L919.3,226.6 Q912.5,226.6 912.5,233.4 L912.5,450.4 Q912.5,457.2 919.3,457.2 L929.4,457.2 Z" fill="none" stroke="#1a1a1a" stroke-width="1.7"/>
<line x1="941.1" y1="220.7" x2="941.1" y2="462" stroke="#222" stroke-width="1.2" stroke-dasharray="8 3 1.5 3"/>
<path d="M929.4,249.2 L955.7,249.2 L955.7,277" fill="none" stroke="#1a1a1a" stroke-width="1.2"/>
<path d="M929.4,256.7 L951.5,256.7 L951.5,270.9 L929.4,270.9" fill="none" stroke="#1a1a1a" stroke-width="1.1"/>
<path d="M929.4,259.1 L948.5,259.1 L948.5,268.3 L929.4,268.3" fill="none" stroke="#1a1a1a" stroke-width="1"/>
<path d="M929.4,434 L955.3,434 L955.3,407" fill="none" stroke="#1a1a1a" stroke-width="1.2"/>
<path d="M929.4,412.7 L951.3,412.7 L951.3,426.7 L929.4,426.7" fill="none" stroke="#1a1a1a" stroke-width="1.1"/>
<path d="M929.4,416 L948,416 L948,423.3 L929.4,423.3" fill="none" stroke="#1a1a1a" stroke-width="1"/>
<path d="M929.4,324.4 L950,324.4 L950,332.9 L929.4,332.9" fill="none" stroke="#1a1a1a" stroke-width="1.1"/>
<path d="M929.4,350.7 L950,350.7 L950,359.3 L929.4,359.3" fill="none" stroke="#1a1a1a" stroke-width="1.1"/>
<path d="M955.7,260.4 L957.4,260.4 L957.4,251.6 L959.2,248.9 L959.2,243.7 L980.1,243.7 L978.7,246.2 L979.5,276 L955.7,276.6" fill="none" stroke="#1a1a1a" stroke-width="1.2"/>
<path d="M955.3,407.3 L980.7,407.3 L980.7,440 L959.3,440 L959.3,431 L957.3,431 L957.3,407.3" fill="none" stroke="#1a1a1a" stroke-width="1.2"/>
<path d="M943.2,277 L955.7,276.6 L955.7,278.6 Z" fill="#1a1a1a" stroke="#1a1a1a" stroke-width="0.8"/>
<path d="M949.3,405.7 L956,403.8 L956,406.2 Z" fill="#1a1a1a" stroke="#1a1a1a" stroke-width="0.8"/>
<path d="M955.7,276.8 L993.9,280.4 L993.9,309.7 L983.2,306 L983.2,280.6" fill="none" stroke="#1a1a1a" stroke-width="1.2"/>
<path d="M956,405.5 L993.3,402.7 L993.3,374 L983.3,377.6 L983.3,402.7" fill="none" stroke="#1a1a1a" stroke-width="1.2"/>
<line x1="993.6" y1="280" x2="993.6" y2="403" stroke="#1a1a1a" stroke-width="1.2"/>
<path d="M956.5,278.5 L962.8,284.4 L962.8,318 L983.6,325.3 L983.6,356 L962.7,359.5 L962.7,397.3 L956,402.7" fill="none" stroke="#1a1a1a" stroke-width="1.2"/>
<path d="M957,277.5 L966.3,281.8 L966.3,313.3 L986.7,320 L986.7,362 L966,364.6 L966,388.7 L983.3,388.7" fill="none" stroke="#1a1a1a" stroke-width="1.1"/>
<path d="M966.3,286.2 L983.2,286.2 M965.4,294 L983.2,294" fill="none" stroke="#1a1a1a" stroke-width="1.1"/>
<path d="M966,397.3 L983.3,397.3" fill="none" stroke="#1a1a1a" stroke-width="1.1"/>
<rect x="983.2" y="286.2" width="7.6" height="8" fill="#fff" stroke="#1a1a1a" stroke-width="1.1"/><line x1="989" y1="286.2" x2="989" y2="294.2" stroke="#1a1a1a" stroke-width="1"/>
<rect x="983.3" y="389.3" width="7.4" height="8" fill="#fff" stroke="#1a1a1a" stroke-width="1.1"/><line x1="989" y1="389.3" x2="989" y2="397.3" stroke="#1a1a1a" stroke-width="1"/>
<path d="M969.3,323.5 L982.6,326.5 L982.6,356.4 L969.3,356.4 Z" fill="none" stroke="#1a1a1a" stroke-width="1.1"/>
<line x1="969.3" y1="326" x2="982.6" y2="328.5" stroke="#777" stroke-width="0.8"/>
</svg></body></html>
